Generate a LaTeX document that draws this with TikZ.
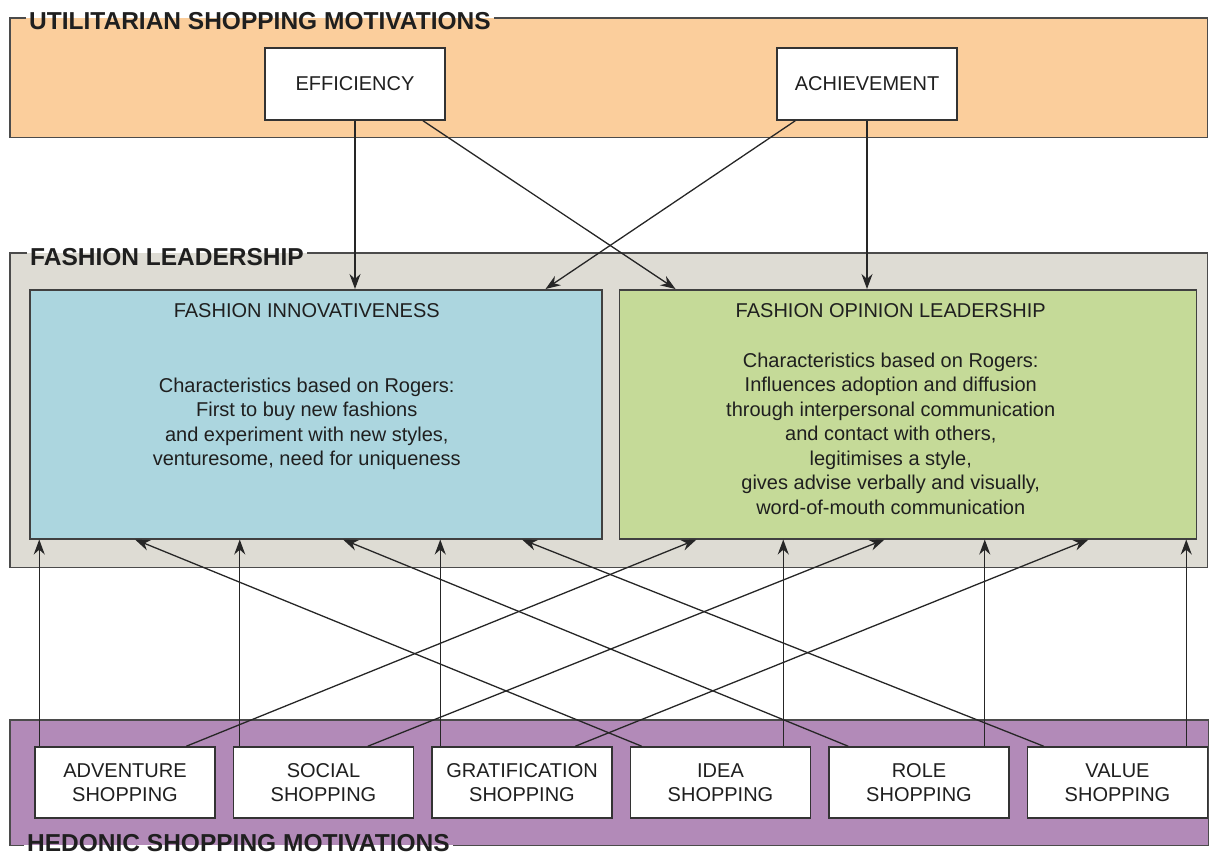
\documentclass[tikz,border=0pt]{standalone}
\usepackage{fontspec}
\setmainfont{Liberation Sans}
\usetikzlibrary{positioning, arrows.meta}

\definecolor{utilorange}{RGB}{251,206,156}
\definecolor{leadgray}{RGB}{222,220,212}
\definecolor{innoblue}{RGB}{172,214,223}
\definecolor{opiniongreen}{RGB}{197,218,152}
\definecolor{hedonpurple}{RGB}{178,138,184}
\definecolor{edgegray}{RGB}{75,75,75}

\tikzset{
  band/.style = {rectangle, anchor=north west, inner sep=0pt},
  band border/.style = {draw=edgegray, line width=1.5pt},
  band title/.style = {anchor=west, inner sep=0pt, text=black!88,
    font=\fontsize{24.5}{28}\selectfont\bfseries},
  panel/.style = {rectangle, draw=black!75, line width=1.5pt, inner sep=0pt,
    minimum height=249pt},
  panel text/.style = {align=center, inner sep=0pt, text=black!88,
    font=\fontsize{20}{24.5}\selectfont},
  motive/.style = {rectangle, draw=black!80, fill=white, line width=1.5pt,
    minimum width=180pt, minimum height=72pt, inner sep=0pt, align=center,
    text=black!88, font=\fontsize{20}{23.5}\selectfont},
  influence/.style = {-{Stealth[length=15pt,width=11pt]}, draw=black!85,
    line width=1.3pt}
}

\begin{document}
\begin{tikzpicture}[x=1pt, y=1pt, node distance=17pt]
  \useasboundingbox (0,0) rectangle (1209,-855);

  \node[band, fill=utilorange, minimum width=1197pt, minimum height=119pt]
    (utilband) at (10,-18) {};
  \node[band, fill=leadgray, minimum width=1197pt, minimum height=314pt]
    (leadband) at (10,-253) {};
  \node[band, fill=hedonpurple, minimum width=1198pt, minimum height=125pt]
    (hedonband) at (10,-720) {};

  \node[band title] (utiltitle) at (29,-21) {UTILITARIAN SHOPPING MOTIVATIONS};
  \node[band title] (leadtitle) at (30,-257) {FASHION LEADERSHIP};
  \node[band title] (hedontitle) at (27,-843.5) {HEDONIC SHOPPING MOTIVATIONS};

  \draw[band border] ([xshift=3pt]utiltitle.east |- utilband.north)
    -- (utilband.north east) -- (utilband.south east)
    -- (utilband.south west) -- (utilband.north west)
    -- ([xshift=-3pt]utiltitle.west |- utilband.north);
  \draw[band border] ([xshift=3pt]leadtitle.east |- leadband.north)
    -- (leadband.north east) -- (leadband.south east)
    -- (leadband.south west) -- (leadband.north west)
    -- ([xshift=-3pt]leadtitle.west |- leadband.north);
  \draw[band border] ([xshift=-3pt]hedontitle.west |- hedonband.south)
    -- (hedonband.south west) -- (hedonband.north west)
    -- (hedonband.north east) -- (hedonband.south east)
    -- ([xshift=3pt]hedontitle.east |- hedonband.south);

  \node[panel, fill=innoblue, minimum width=572pt, anchor=north west]
    (innov) at (29,-289) {};
  \node[panel, fill=opiniongreen, minimum width=577pt, right=16pt of innov]
    (opinion) {};

  \node[panel text, below=14pt of innov.north, xshift=-9pt] (innovhead)
    {FASHION INNOVATIVENESS};
  \node[panel text, below=60pt of innovhead] (innovbody)
    {Characteristics based on Rogers:\\First to buy new fashions\\
     and experiment with new styles,\\venturesome, need for uniqueness};

  \node[panel text, below=14pt of opinion.north, xshift=-17pt] (opinionhead)
    {FASHION OPINION LEADERSHIP};
  \node[panel text, below=35pt of opinionhead] (opinionbody)
    {Characteristics based on Rogers:\\Influences adoption and diffusion\\
     through interpersonal communication\\and contact with others,\\
     legitimises a style,\\gives advise verbally and visually,\\
     word-of-mouth communication};

  \node[motive] (efficiency) at (355,-84) {EFFICIENCY};
  \node[motive] (achievement) at (867,-84) {ACHIEVEMENT};

  \node[motive, minimum height=71pt] (adventure) at (125,-782.5)
    {ADVENTURE\\SHOPPING};
  \node[motive, minimum height=71pt, right=of adventure] (social)
    {SOCIAL\\SHOPPING};
  \node[motive, minimum height=71pt, right=of social] (gratification)
    {GRATIFICATION\\SHOPPING};
  \node[motive, minimum height=71pt, right=of gratification] (idea)
    {IDEA\\SHOPPING};
  \node[motive, minimum height=71pt, right=of idea] (role)
    {ROLE\\SHOPPING};
  \node[motive, minimum height=71pt, right=of role] (value)
    {VALUE\\SHOPPING};

  \draw[influence] (efficiency.south) -- (efficiency.south |- innov.north);
  \draw[influence] ([xshift=68pt]efficiency.south)
    -- ([xshift=57pt]opinion.north west);
  \draw[influence] ([xshift=19pt]achievement.south west)
    -- ([xshift=-57pt]innov.north east);
  \draw[influence] (achievement.south) -- (achievement.south |- opinion.north);

  \draw[influence] ([xshift=5pt]adventure.north west)
    -- ([xshift=5pt]adventure.north west |- innov.south);
  \draw[influence] ([xshift=7pt]social.north west)
    -- ([xshift=7pt]social.north west |- innov.south);
  \draw[influence] ([xshift=9pt]gratification.north west)
    -- ([xshift=9pt]gratification.north west |- innov.south);
  \draw[influence] ([xshift=-28pt]idea.north east)
    -- ([xshift=-28pt]idea.north east |- opinion.south);
  \draw[influence] ([xshift=-25pt]role.north east)
    -- ([xshift=-25pt]role.north east |- opinion.south);
  \draw[influence] ([xshift=-22pt]value.north east)
    -- ([xshift=-22pt]value.north east |- opinion.south);

  \draw[influence] ([xshift=152pt]adventure.north west)
    -- ([xshift=78pt]opinion.south west);
  \draw[influence] ([xshift=135pt]social.north west)
    -- ([xshift=266pt]opinion.south west);
  \draw[influence] ([xshift=144pt]gratification.north west)
    -- ([xshift=470pt]opinion.south west);
  \draw[influence] ([xshift=12pt]idea.north west)
    -- ([xshift=106pt]innov.south west);
  \draw[influence] ([xshift=20pt]role.north west)
    -- ([xshift=314pt]innov.south west);
  \draw[influence] ([xshift=17pt]value.north west)
    -- ([xshift=493pt]innov.south west);
\end{tikzpicture}
\end{document}
